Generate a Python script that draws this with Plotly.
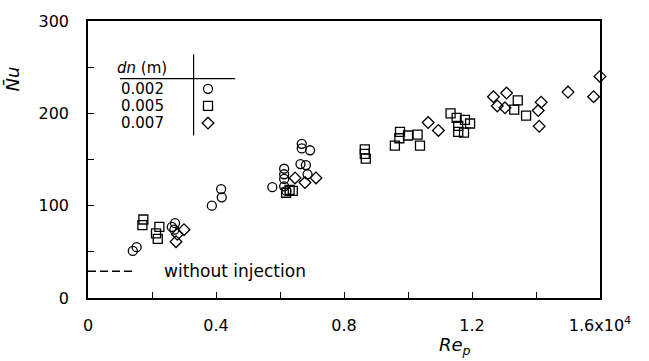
import plotly.graph_objects as go

# Re_p in units of 10^4, Nu mean
circ_re = [0.140, 0.152, 0.272, 0.262, 0.270, 0.387, 0.416, 0.418, 0.576,
           0.613, 0.613, 0.613, 0.613, 0.620, 0.668, 0.668, 0.694, 0.664, 0.681, 0.686]
circ_nu = [51, 55, 81, 77, 74, 100, 118, 109, 120,
           140, 134, 129, 121, 116, 167, 162, 160, 145, 144, 134]

sq_re = [0.173, 0.170, 0.223, 0.2125, 0.218, 0.619, 0.640, 0.630,
         0.865, 0.865, 0.868, 0.959, 0.973, 0.975, 1.000, 1.030, 1.0375,
         1.133, 1.152, 1.178, 1.194, 1.157, 1.157, 1.175, 1.343, 1.332, 1.369]
sq_nu = [85, 79, 77, 70, 64, 114, 116, 117,
         161, 156, 151, 165, 173, 180, 176, 177, 165,
         200, 195, 193, 189, 186.5, 180, 179, 214, 204, 197.5]

dia_re = [0.300, 0.279, 0.275, 0.647, 0.678, 0.7125, 1.063, 1.095,
          1.267, 1.308, 1.279, 1.303, 1.416, 1.407, 1.410, 1.500, 1.580, 1.600]
dia_nu = [74, 69, 61, 130, 125, 130, 190, 181.5,
          218, 222, 208, 206, 212, 203, 186, 223, 218, 240]

noinj_re = [0.0, 0.14]
noinj_nu = [29, 29]

x_tickvals = [0, 0.4, 0.8, 1.2, 1.6]
x_ticktext = ["0", "0.4", "0.8", "1.2", "1.6x10<sup>4</sup>"]
x_minor_step = 0.2
y_tickvals = [0, 100, 200, 300]
y_ticktext = ["0", "100", "200", "300"]
y_minor_step = 50

legend_labels = ["0.002", "0.005", "0.007"]
legend_symbols = ["circle-open", "square-open", "diamond-open"]
legend_nu = [226.5, 208, 189.5]

FONT = "DejaVu Sans"
mk = dict(color="black", size=9, line=dict(color="black", width=1.3))

fig = go.Figure()
for xs, ys, sym in [(circ_re, circ_nu, "circle-open"), (sq_re, sq_nu, "square-open"),
                    (dia_re, dia_nu, "diamond-open")]:
    fig.add_trace(go.Scatter(x=xs, y=ys, mode="markers", cliponaxis=False,
                             marker=dict(symbol=sym, **mk), showlegend=False))

fig.add_trace(go.Scatter(x=noinj_re, y=noinj_nu, mode="lines", showlegend=False,
                         line=dict(color="black", width=1.5, dash="8px,4px")))
fig.add_annotation(x=0.23, y=noinj_nu[0], text="without injection", showarrow=False,
                   xanchor="left", yanchor="middle",
                   font=dict(size=17, color="black", family=FONT))

# legend block
fig.add_trace(go.Scatter(x=[0.375] * 3, y=legend_nu, mode="markers", cliponaxis=False,
                         marker=dict(symbol=legend_symbols, **mk), showlegend=False))
for lab, nu in zip(legend_labels, legend_nu):
    fig.add_annotation(x=0.17, y=nu, text=lab, showarrow=False, xanchor="center",
                       yanchor="middle", borderpad=0,
                       font=dict(size=15, color="black", family=FONT))
fig.add_annotation(x=0.17, y=249, text="<i>dn</i> (m)", showarrow=False, xanchor="center",
                   yanchor="middle", borderpad=0,
                   font=dict(size=15, color="black", family=FONT))
fig.add_shape(type="line", x0=0.10, x1=0.46, y0=237.5, y1=237.5, xref="x", yref="y",
              line=dict(color="black", width=1.2))
fig.add_shape(type="line", x0=0.33, x1=0.33, y0=264, y1=176, xref="x", yref="y",
              line=dict(color="black", width=1.2))

# axis titles
fig.add_annotation(x=1.147, y=-0.175, xref="x", yref="paper", text="<i>Re<sub>p</sub></i>",
                   showarrow=False, xanchor="center", yanchor="middle",
                   font=dict(size=18, color="black", family=FONT))
fig.add_annotation(x=-0.148, y=0.79, xref="paper", yref="paper", text="<i>N\u0304u</i>",
                   showarrow=False, xanchor="center", yanchor="middle", textangle=-90,
                   font=dict(size=18, color="black", family=FONT))

axis_common = dict(showgrid=False, zeroline=False, showline=True, linecolor="black",
                   linewidth=1.5, mirror=True, ticks="inside", ticklen=6, tickwidth=1.2,
                   tickcolor="black", tickfont=dict(size=16, color="black", family=FONT))
fig.update_xaxes(range=[0, 1.6], tickvals=x_tickvals, ticktext=x_ticktext,
                 ticklabelstandoff=12,
                 minor=dict(ticks="inside", dtick=x_minor_step, tick0=0, ticklen=6,
                            tickwidth=1.2, tickcolor="black", showgrid=False),
                 **axis_common)
fig.update_yaxes(range=[0, 300], tickvals=y_tickvals, ticktext=y_ticktext,
                 ticklabelstandoff=14,
                 minor=dict(ticks="inside", dtick=y_minor_step, tick0=0, ticklen=6,
                            tickwidth=1.2, tickcolor="black", showgrid=False),
                 **axis_common)

fig.update_layout(width=649, height=361, margin=dict(l=88, r=49, t=16, b=63),
                  plot_bgcolor="white", paper_bgcolor="white")
fig.write_html("out.html")
